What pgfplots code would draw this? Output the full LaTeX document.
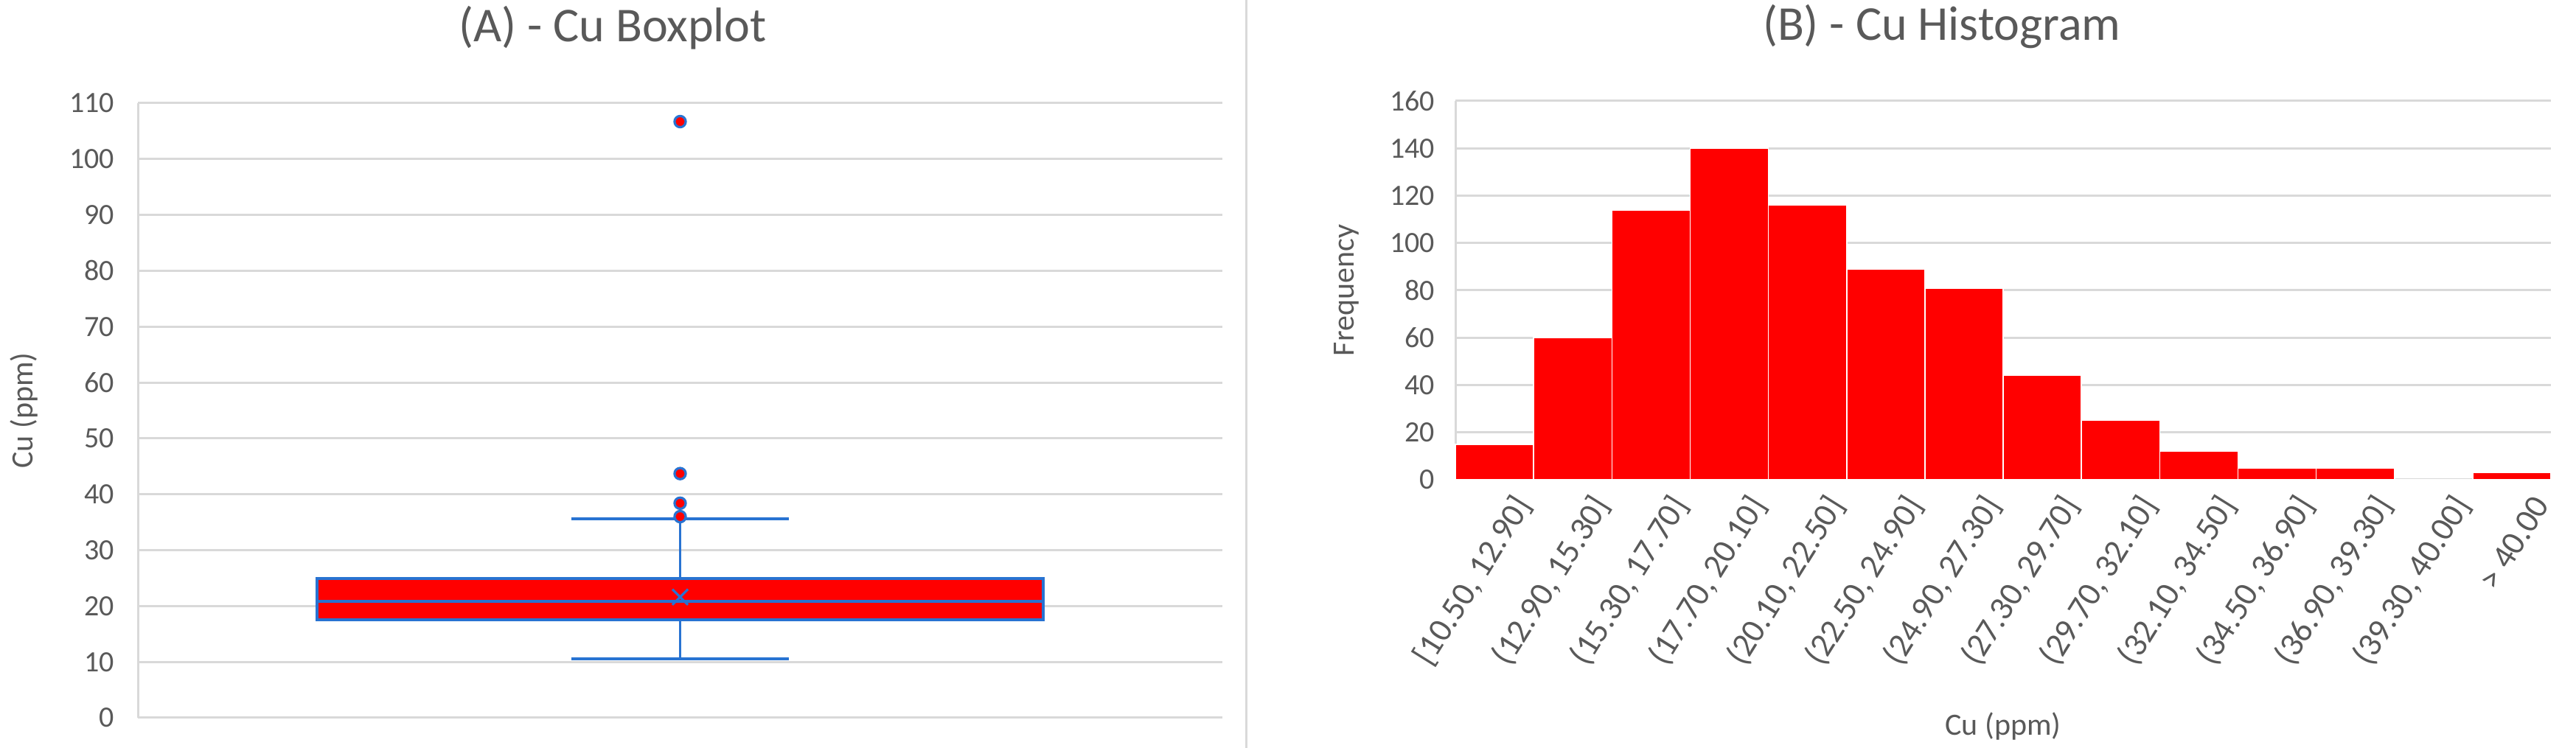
\documentclass[border=0pt]{standalone}
\usepackage{pgfplots}
\pgfplotsset{compat=1.18}
\usepackage{fontspec}
\setmainfont{Carlito}

\definecolor{txt}{HTML}{595959}
\definecolor{grd}{HTML}{D9D9D9}
\definecolor{boxblue}{RGB}{40,115,210}

\pgfplotsset{
  excel/.style={
    scale only axis,
    anchor=south west,
    axis x line*=bottom,
    axis y line*=left,
    x axis line style={draw=none},
    y axis line style={grd, line width=0.75pt},
    major tick length=0pt,
    ymajorgrids,
    major grid style={grd, line width=0.75pt},
    tick label style={font=\fontsize{10}{12}\selectfont, text=txt},
    /pgf/number format/assume math mode=true,
    label style={font=\fontsize{10.5}{12}\selectfont, text=txt},
    title style={font=\fontsize{16.5}{18}\selectfont, text=txt, anchor=center},
    ylabel style={anchor=center},
    xlabel style={anchor=center},
    clip=false,
  }
}

% five-number summary of Cu (ppm)
\def\lw{10.5}\def\qa{17.6}\def\med{20.9}\def\qb{24.9}\def\uw{35.65}

\pgfplotstableread{
x  y
0  15
1  60
2  114
3  140
4  116
5  89
6  81
7  44
8  25
9  12
10 5
11 5
12 0
13 3
}\histdata

\begin{document}
\begin{tikzpicture}
\path[use as bounding box] (0,0) rectangle (873.5pt,253.75pt);
\draw[grd, line width=0.75pt] (422.5pt,0pt) -- (422.5pt,253.75pt);

% (A) boxplot
\begin{axis}[excel,
  at={(46.75pt,10.25pt)},
  width=367.75pt, height=208.5pt,
  xmin=0, xmax=2, ymin=0, ymax=110,
  ytick={0,10,...,110},
  xtick=\empty,
  yticklabel style={xshift=-4.5pt},
  ylabel={Cu (ppm)},
  ylabel style={at={(axis description cs:-0.1047,0.5)}},
  title={(A) - Cu Boxplot},
  title style={at={(axis description cs:0.4378,1.0935)}},
]
% whiskers
\addplot[boxblue, line width=0.8pt] coordinates {(1,\lw) (1,\qa)};
\addplot[boxblue, line width=0.8pt] coordinates {(1,\qb) (1,\uw)};
\addplot[boxblue, line width=1pt] coordinates {(0.8,\lw) (1.2,\lw)};
\addplot[boxblue, line width=1pt] coordinates {(0.8,\uw) (1.2,\uw)};
% box and median
\addplot[fill=red, draw=boxblue, line width=1pt]
  coordinates {(0.33,\qa) (1.67,\qa) (1.67,\qb) (0.33,\qb)} -- cycle;
\addplot[boxblue, line width=1pt] coordinates {(0.33,\med) (1.67,\med)};
% mean
\addplot[only marks, mark=x, mark size=3.75pt, boxblue, line width=0.8pt]
  coordinates {(1,21.6)};
% outliers
\addplot[only marks, mark=*, mark size=1.9pt,
  mark options={fill=red, draw=boxblue, line width=0.8pt}]
  coordinates {(1,36.0) (1,38.4) (1,43.7) (1,106.7)};
\end{axis}

% (B) histogram
\begin{axis}[excel,
  at={(493.5pt,91pt)},
  width=371.5pt, height=128.5pt,
  xmin=-0.5, xmax=13.5, ymin=0, ymax=160,
  ytick={0,20,...,160},
  xtick={0,...,13},
  xticklabels={{[10.50, 12.90]},{(12.90, 15.30]},{(15.30, 17.70]},{(17.70, 20.10]},
    {(20.10, 22.50]},{(22.50, 24.90]},{(24.90, 27.30]},{(27.30, 29.70]},
    {(29.70, 32.10]},{(32.10, 34.50]},{(34.50, 36.90]},{(36.90, 39.30]},
    {(39.30, 40.00]},{> 40.00}},
  xticklabel style={rotate=58, anchor=east, font=\fontsize{11.5}{13}\selectfont, xshift=3pt, yshift=-12pt},
  yticklabel style={xshift=-3.5pt},
  ylabel={Frequency},
  ylabel style={at={(axis description cs:-0.0996,0.5)}},
  xlabel={Cu (ppm)},
  xlabel style={at={(axis description cs:0.5,-0.65)}},
  title={(B) - Cu Histogram},
  title style={at={(axis description cs:0.444,1.1498)}},
]
\addplot[ybar, bar width=1, fill=red, draw=white, line width=0.4pt]
  table[x=x, y=y] {\histdata};
\end{axis}
\end{tikzpicture}
\end{document}
